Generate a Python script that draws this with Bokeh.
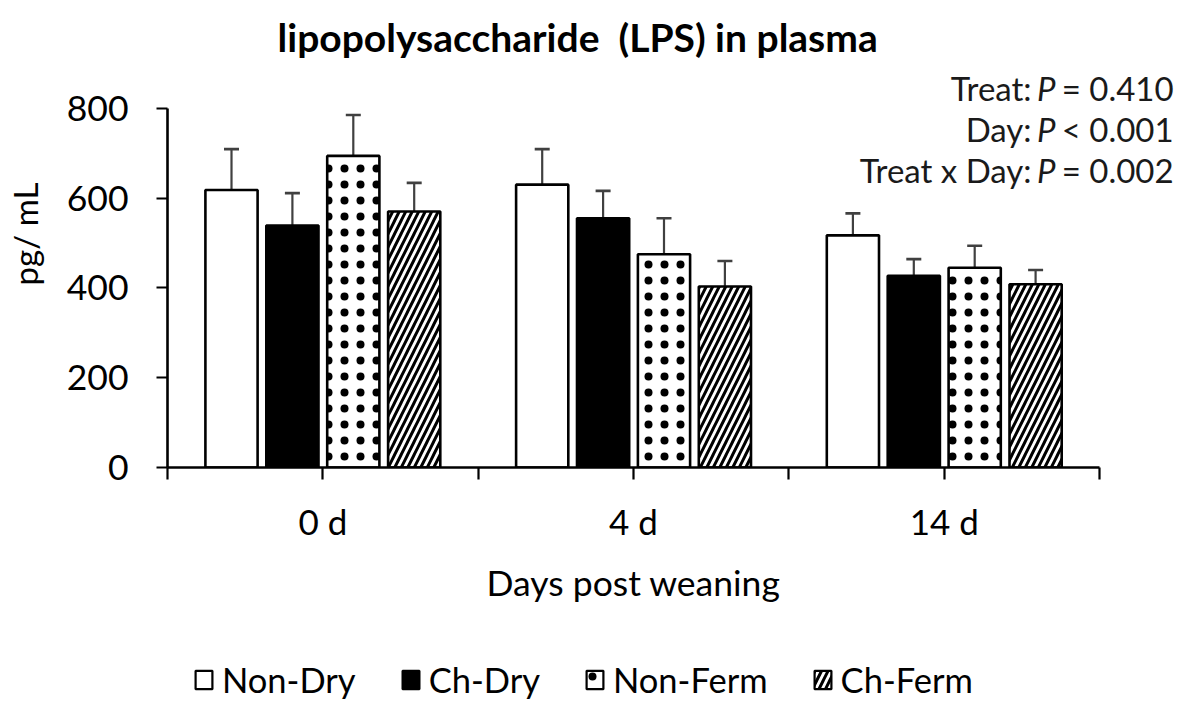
from bokeh.plotting import figure
from bokeh.layouts import column
from bokeh.models import (Range1d, FixedTicker, Whisker, TeeHead, ColumnDataSource,
                          Label, Legend, LegendItem)
from bokeh.embed import file_html
from bokeh.resources import INLINE

# ---- data ----
days = ["0 d", "4 d", "14 d"]
treatments = ["Non-Dry", "Ch-Dry", "Non-Ferm", "Ch-Ferm"]
non_dry = [618, 630, 517]
ch_dry = [539, 555, 427]
non_ferm = [694, 475, 445]
ch_ferm = [570, 403, 408]
non_dry_se = [91, 79, 49]
ch_dry_se = [72, 61, 37]
non_ferm_se = [91, 80, 49]
ch_ferm_se = [64, 57, 32]
y_ticks = [0, 200, 400, 600, 800]
stats_prefix = ["Treat:", "Day:", "Treat x Day:"]
stats_suffix = ["= 0.410", "< 0.001", "= 0.002"]
title_text = "lipopolysaccharide\u00a0 (LPS) in plasma"
x_title = "Days post weaning"

FONT = "Lato"
W = 1190
H_MAIN, H_BOT = 547, 168
LEFT, BOTTOM_BORDER = 167, 80
PX_X = 310.7                          # px per day category
FRAME_H = H_MAIN - BOTTOM_BORDER
PX_Y = 359.2 / 800                    # px per pg/mL

x_end = (W - LEFT) / PX_X
y_end = FRAME_H / PX_Y

p = figure(width=W, height=H_MAIN, output_backend="svg", toolbar_location=None,
           x_range=Range1d(0, x_end), y_range=Range1d(0, y_end),
           min_border_left=LEFT, min_border_right=0, min_border_top=0,
           min_border_bottom=BOTTOM_BORDER)
p.outline_line_color = None
p.xgrid.grid_line_color = None
p.ygrid.grid_line_color = None

series = [non_dry, ch_dry, non_ferm, ch_ferm]
errs = [non_dry_se, ch_dry_se, non_ferm_se, ch_ferm_se]
styles = [
    dict(fill_color="white"),
    dict(fill_color="black"),
    dict(fill_color="white", hatch_pattern="dot", hatch_color="black",
         hatch_scale=16, hatch_weight=1),
    dict(fill_color="white", hatch_pattern="right_diagonal_line", hatch_color="black",
         hatch_scale=13, hatch_weight=3),
]
pitch, bw = 0.196, 0.168
for k, (vals, se, st) in enumerate(zip(series, errs, styles)):
    xs = [i + 0.5 + (k - 1.5) * pitch for i in range(len(days))]
    src = ColumnDataSource(dict(x=xs, top=vals, up=[v + e for v, e in zip(vals, se)]))
    wh = Whisker(base="x", upper="up", lower="top", source=src,
                 line_color="#404040", line_width=2.2,
                 upper_head=TeeHead(size=15, line_color="#404040", line_width=2.6),
                 lower_head=None)
    p.add_layout(wh)
    p.vbar(x="x", top="top", width=bw, source=src, line_color="black",
           line_width=2.6, **st)

# axes
xa = p.xaxis[0]
xa.bounds = (0, len(days))
xa.ticker = FixedTicker(ticks=[0.5, 1.5, 2.5], minor_ticks=[0, 1, 2, 3])
xa.major_label_overrides = {0.5: days[0], 1.5: days[1], 2.5: days[2]}
xa.major_tick_in = 0
xa.major_tick_out = 12
xa.minor_tick_in = 0
xa.minor_tick_out = 12
xa.major_tick_line_width = 2.2
xa.minor_tick_line_width = 2.2
xa.axis_line_width = 2.6
xa.axis_line_color = "black"
xa.major_label_text_font = FONT
xa.major_label_text_font_size = "35px"
xa.major_label_text_color = "black"
xa.major_label_standoff = 20

ya = p.yaxis[0]
ya.bounds = (0, 800)
ya.ticker = FixedTicker(ticks=y_ticks)
ya.minor_tick_line_color = None
ya.major_tick_in = 0
ya.major_tick_out = 11
ya.major_tick_line_width = 2.2
ya.axis_line_width = 2.6
ya.axis_line_color = "black"
ya.major_label_text_font = FONT
ya.major_label_text_font_size = "35.5px"
ya.major_label_text_color = "black"
ya.major_label_standoff = 28
ya.axis_label = "pg/ mL"
ya.axis_label_text_font = FONT
ya.axis_label_text_font_style = "normal"
ya.axis_label_text_font_size = "33px"
ya.axis_label_text_color = "black"
ya.axis_label_standoff = 19

# title
p.add_layout(Label(x=1.32, y=800, y_offset=71, text=title_text,
                   text_font=FONT, text_font_style="bold", text_font_size="39px",
                   text_align="center", text_baseline="middle", text_color="black"))

# statistics
stat_dy = [20, -21, -62]       # px relative to the 800 gridline
for pre, suf, dy in zip(stats_prefix, stats_suffix, stat_dy):
    p.add_layout(Label(x=3, y=800, x_offset=74, y_offset=dy, text=suf, text_font=FONT,
                       text_font_size="33px", text_align="right",
                       text_baseline="middle", text_color="#1a1a1a"))
    p.add_layout(Label(x=3, y=800, x_offset=-44, y_offset=dy, text="P", text_font=FONT,
                       text_font_style="italic", text_font_size="33px",
                       text_align="right", text_baseline="middle", text_color="#1a1a1a"))
    p.add_layout(Label(x=3, y=800, x_offset=-68, y_offset=dy, text=pre, text_font=FONT,
                       text_font_size="33px", text_align="right",
                       text_baseline="middle", text_color="#1a1a1a"))

# bottom strip: x-axis title + legend
lf = figure(width=W, height=H_BOT, output_backend="svg", toolbar_location=None,
            x_range=Range1d(0, x_end), y_range=Range1d(0, H_BOT),
            x_axis_location=None, y_axis_location=None,
            min_border_left=0, min_border_right=0, min_border_top=0, min_border_bottom=0)
lf.outline_line_color = None
lf.xgrid.grid_line_color = None
lf.ygrid.grid_line_color = None
lf.add_layout(Label(x=len(days) / 2, y=H_BOT - 35, text=x_title, text_font=FONT,
                    text_font_size="35.5px", text_align="center",
                    text_baseline="middle", text_color="black"))
nan = float("nan")
items = []
for t, st in zip(treatments, styles):
    src = ColumnDataSource(dict(x=[nan], top=[nan]))
    r = lf.vbar(x="x", top="top", width=0.1, source=src, line_color="black",
                line_width=2.2, **st)
    items.append(LegendItem(label=t, renderers=[r]))
legend = Legend(items=items, location=(26, 15), orientation="horizontal",
                glyph_width=21, glyph_height=23, label_text_font=FONT,
                label_text_font_size="34.5px", label_text_color="black",
                label_standoff=8, spacing=44, padding=0, margin=0,
                border_line_color=None, background_fill_alpha=0)
lf.add_layout(legend)

open("out.html", "w").write(file_html(column(p, lf, spacing=0), INLINE))
